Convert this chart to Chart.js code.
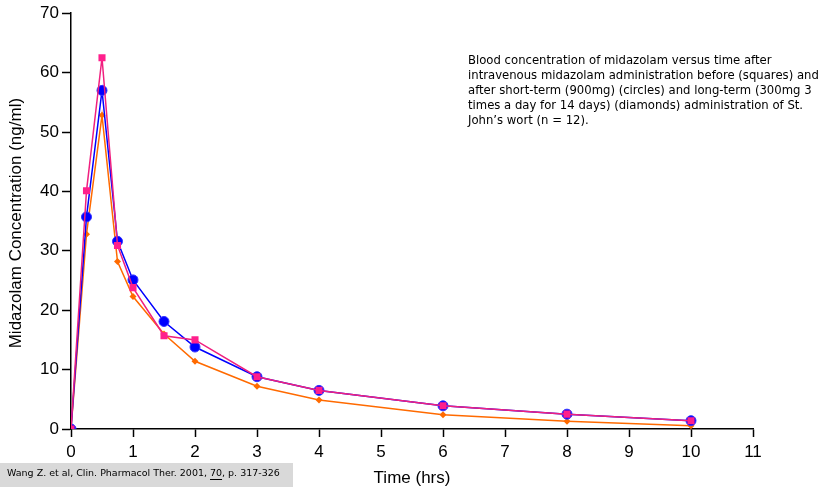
<!DOCTYPE html>
<html>
<head>
<meta charset="utf-8">
<script src="https://cdn.jsdelivr.net/npm/chart.js@4.4.0/dist/chart.umd.min.js"></script>
<style>
  body { margin: 0; background: #fff; }
  #wrap { position: relative; width: 825px; height: 491px; }
</style>
</head>
<body>
<div id="wrap"><canvas id="pkChart" width="825" height="491"></canvas></div>
<script>
// time (hrs) and midazolam concentration (ng/ml)
const timePoints = [0, 0.25, 0.5, 0.75, 1, 1.5, 2, 3, 4, 6, 8, 10];
const beforeSquares = [0, 40.1, 62.5, 30.9, 23.8, 15.7, 15.0, 8.8, 6.5, 3.9, 2.5, 1.4];
const shortTermCircles = [0, 35.7, 57.0, 31.6, 25.1, 18.1, 13.8, 8.8, 6.5, 3.9, 2.5, 1.4];
const longTermDiamonds = [0, 32.8, 52.8, 28.2, 22.3, 16.0, 11.4, 7.2, 4.9, 2.4, 1.3, 0.55];

const noteLines = [
  "Blood concentration of midazolam versus time after",
  "intravenous midazolam administration before (squares) and",
  "after short-term (900mg) (circles) and long-term (300mg 3",
  "times a day for 14 days) (diamonds) administration of St.",
  "John\u2019s wort (n = 12)."
];
const citeParts = ["Wang Z. et al, Clin. Pharmacol Ther. 2001, ", "70", ", p. 317-326"];

const yTitle = "Midazolam Concentration (ng/ml)";
const xTitle = "Time (hrs)";

function toXY(ys) {
  return timePoints.map((t, i) => ({ x: t, y: ys[i] }));
}

const extras = {
  id: 'extras',
  afterDraw(chart) {
    const ctx = chart.ctx;
    const area = chart.chartArea;
    ctx.save();
    ctx.fillStyle = '#000';

    // axis titles
    ctx.font = '17px "Liberation Sans", Arial, sans-serif';
    ctx.textAlign = 'center';
    ctx.textBaseline = 'middle';
    ctx.fillText(xTitle, (area.left + area.right) / 2, 478);
    ctx.save();
    ctx.translate(16, (area.top + area.bottom) / 2 + 2);
    ctx.rotate(-Math.PI / 2);
    ctx.fillText(yTitle, 0, 0);
    ctx.restore();

    // note text at upper right
    ctx.font = '12px "DejaVu Sans", sans-serif';
    let size = 12 * 351 / ctx.measureText(noteLines[1]).width;
    ctx.font = size + 'px "DejaVu Sans", sans-serif';
    ctx.textAlign = 'left';
    noteLines.forEach((l, i) => ctx.fillText(l, 468, 61 + i * 15));

    // citation box
    ctx.fillStyle = '#d9d9d9';
    ctx.fillRect(0, 463, 293, 24);
    ctx.fillStyle = '#000';
    ctx.font = '11px "DejaVu Sans", sans-serif';
    const full = citeParts.join('');
    size = 11 * 273 / ctx.measureText(full).width;
    ctx.font = size + 'px "DejaVu Sans", sans-serif';
    let x = 7;
    const y = 474;
    citeParts.forEach((p, i) => {
      ctx.fillText(p, x, y);
      const w = ctx.measureText(p).width;
      if (i === 1) {
        ctx.fillRect(x, y + 5, w, 1);
      }
      x += w;
    });
    ctx.restore();
  }
};

new Chart(document.getElementById('pkChart'), {
  type: 'line',
  data: {
    datasets: [
      {
        label: 'Before',
        data: toXY(beforeSquares),
        borderColor: '#f0207f',
        backgroundColor: '#ff1f8c',
        borderWidth: 1.5,
        pointStyle: 'rect',
        pointRadius: 5,
        pointBorderWidth: 0,
        tension: 0,
        order: 0
      },
      {
        label: 'Short-term',
        data: toXY(shortTermCircles),
        borderColor: '#0000ff',
        backgroundColor: '#0000ff',
        borderWidth: 1.5,
        pointStyle: 'circle',
        pointRadius: 5,
        pointBorderWidth: 1,
        pointBorderColor: '#3333ff',
        tension: 0,
        order: 1
      },
      {
        label: 'Long-term',
        data: toXY(longTermDiamonds),
        borderColor: '#ff6a00',
        backgroundColor: '#ff6a00',
        borderWidth: 1.5,
        pointStyle: 'rectRot',
        pointRadius: 3.5,
        pointBorderWidth: 0,
        tension: 0,
        order: 2
      }
    ]
  },
  options: {
    responsive: false,
    animation: false,
    layout: { padding: { left: 0, top: 11, right: 72, bottom: 0 } },
    plugins: {
      legend: { display: false },
      tooltip: { enabled: false }
    },
    scales: {
      x: {
        type: 'linear',
        min: 0,
        max: 11,
        afterFit(scale) { scale.height = 62; },
        ticks: {
          stepSize: 1,
          color: '#000',
          padding: 5,
          font: { family: '"Liberation Sans", Arial, sans-serif', size: 17 }
        },
        grid: {
          drawOnChartArea: false,
          drawTicks: true,
          tickLength: 8,
          tickColor: '#000',
          tickWidth: 1.5
        },
        border: { display: true, color: '#000', width: 1.5 }
      },
      y: {
        min: 0,
        max: 70,
        afterFit(scale) { scale.width = 71; },
        ticks: {
          stepSize: 10,
          color: '#000',
          padding: 3,
          font: { family: '"Liberation Sans", Arial, sans-serif', size: 17 }
        },
        grid: {
          drawOnChartArea: false,
          drawTicks: true,
          tickLength: 9,
          tickColor: '#000',
          tickWidth: 1.5
        },
        border: { display: true, color: '#000', width: 1.5 }
      }
    }
  },
  plugins: [extras]
});
</script>
</body>
</html>
